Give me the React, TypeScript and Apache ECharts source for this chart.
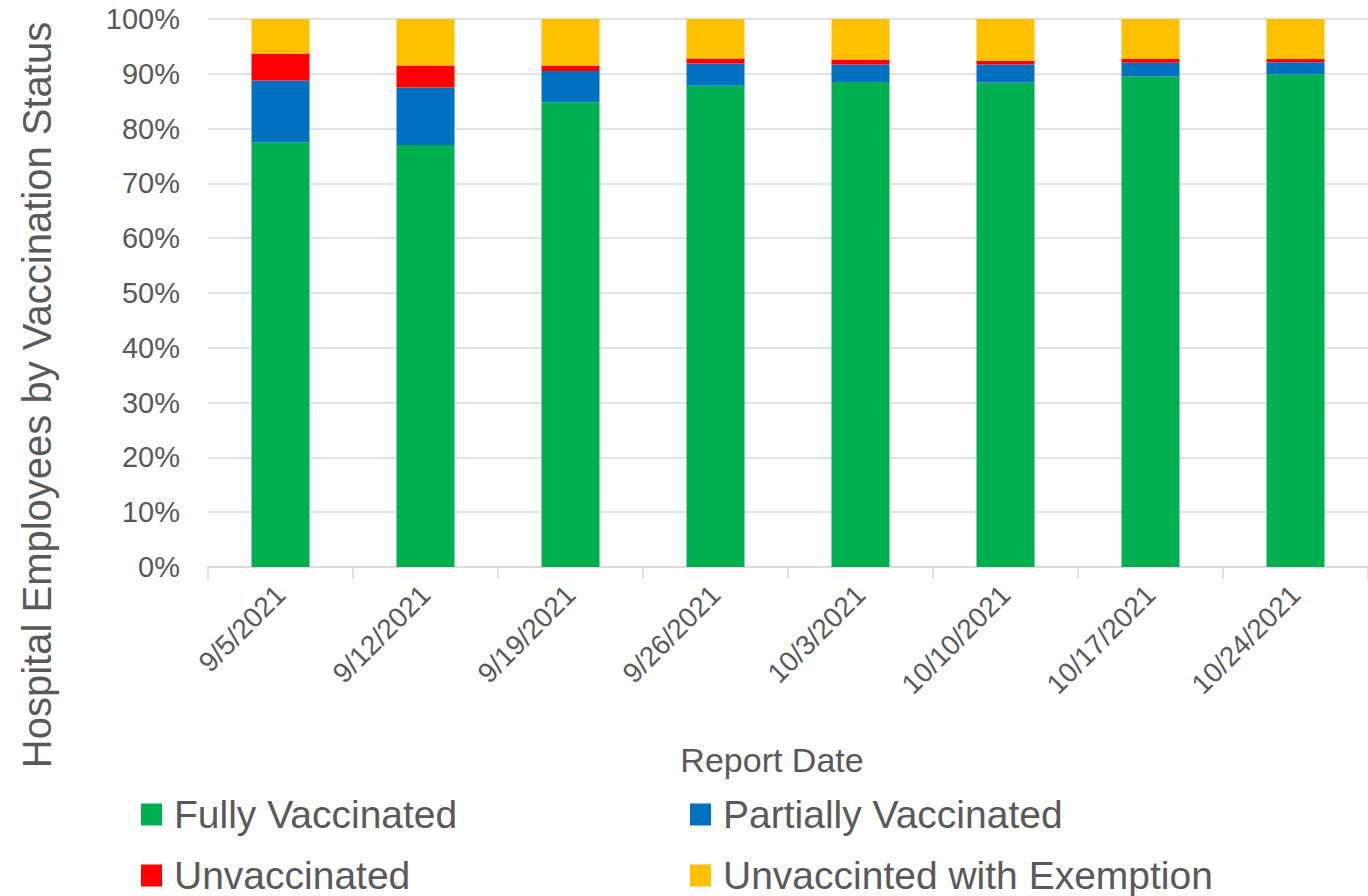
import React, { useEffect, useRef } from "react";
import * as echarts from "echarts";

const categories = ["9/5/2021", "9/12/2021", "9/19/2021", "9/26/2021", "10/3/2021", "10/10/2021", "10/17/2021", "10/24/2021"];
const fullyVaccinated = [77.5, 77.0, 84.8, 87.8, 88.5, 88.4, 89.5, 89.9];
const partiallyVaccinated = [11.3, 10.5, 5.7, 4.1, 3.2, 3.3, 2.5, 2.2];
const unvaccinated = [4.9, 4.0, 1.0, 0.9, 0.9, 0.7, 0.7, 0.6];
const exempt = [6.3, 8.5, 8.5, 7.2, 7.4, 7.6, 7.3, 7.3];
const seriesNames = ["Fully Vaccinated", "Partially Vaccinated", "Unvaccinated", "Unvaccinted with Exemption"];
const colors = ["#00B050", "#0070C0", "#FF0000", "#FFC000"];

const FONT = "Liberation Sans, Arial, sans-serif";
const TXT = "#595959";

export default function App() {
  const ref = useRef<HTMLDivElement>(null);
  useEffect(() => {
    if (!ref.current) return;
    const chart = echarts.init(ref.current, undefined, { renderer: "svg" });
    const values = [fullyVaccinated, partiallyVaccinated, unvaccinated, exempt];
    const legendPos = [
      { left: 141, top: 795 },
      { left: 690, top: 795 },
      { left: 141, top: 856 },
      { left: 690, top: 856 },
    ];
    chart.setOption({
      animation: false,
      backgroundColor: "#ffffff",
      textStyle: { fontFamily: FONT },
      grid: { left: 208, right: 0, top: 19, bottom: 329, containLabel: false },
      xAxis: {
        type: "category",
        data: categories,
        axisLine: { lineStyle: { color: "#d9d9d9", width: 1.5 } },
        axisTick: { show: true, length: 12, lineStyle: { color: "#d9d9d9", width: 1.5 } },
        axisLabel: { rotate: 45, color: TXT, fontSize: 28, fontFamily: FONT, margin: 23, interval: 0 },
      },
      yAxis: {
        type: "value",
        min: 0,
        max: 100,
        interval: 10,
        axisLabel: { formatter: "{value}%", color: TXT, fontSize: 29, fontFamily: FONT, margin: 28 },
        splitLine: { lineStyle: { color: "#d9d9d9", width: 1.5 } },
        axisLine: { show: false },
        axisTick: { show: false },
      },
      legend: seriesNames.map((name, i) => ({
        data: [name],
        left: legendPos[i].left,
        top: legendPos[i].top,
        padding: 0,
        itemWidth: 21,
        itemHeight: 22,
        icon: "rect",
        textStyle: {
          color: TXT,
          fontSize: 39,
          fontFamily: FONT,
          lineHeight: 22,
          padding: [0, 0, 0, 7],
        },
      })),
      graphic: [
        {
          type: "text",
          x: 37,
          y: 395,
          rotation: Math.PI / 2,
          style: {
            text: "Hospital Employees by Vaccination Status",
            fill: TXT,
            fontSize: 40,
            fontFamily: FONT,
            textAlign: "center",
            textVerticalAlign: "middle",
          },
        },
        {
          type: "text",
          x: 772,
          y: 760,
          style: {
            text: "Report Date",
            fill: TXT,
            fontSize: 34,
            fontFamily: FONT,
            textAlign: "center",
            textVerticalAlign: "middle",
          },
        },
      ],
      series: seriesNames.map((name, i) => ({
        name,
        type: "bar",
        stack: "total",
        barWidth: 58,
        data: values[i],
        itemStyle: { color: colors[i] },
      })),
    });
    return () => chart.dispose();
  }, []);
  return (
    <div
      ref={ref}
      style={{ position: "fixed", left: 0, top: 0, width: 1368, height: 896, background: "#fff" }}
    />
  );
}
